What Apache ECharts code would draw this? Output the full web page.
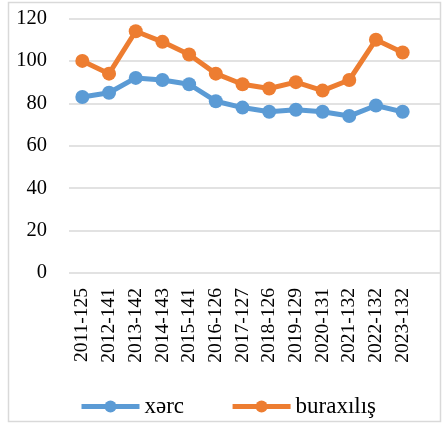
<!DOCTYPE html>
<html>
<head>
<meta charset="utf-8">
<script src="https://cdn.jsdelivr.net/npm/echarts@6/dist/echarts.min.js"></script>
<style>html,body{margin:0;padding:0;background:#fff}#c{width:443px;height:424px}</style>
</head>
<body>
<div id="c"></div>
<script>
const categories = ['2011-125','2012-141','2013-142','2014-143','2015-141','2016-126','2017-127','2018-126','2019-129','2020-131','2021-132','2022-132','2023-132'];
const xercValues = [83, 85, 92, 91, 89, 81, 78, 76, 77, 76, 74, 79, 76];
const buraxilisValues = [100, 94, 114, 109, 103, 94, 89, 87, 90, 86, 91, 110, 104];
const yMin = 0, yMax = 120, yStep = 20;

const font = '"Liberation Serif", "Times New Roman", serif';
const chart = echarts.init(document.getElementById('c'), null, {renderer: 'canvas'});
chart.setOption({
  animation: false,
  backgroundColor: '#fff',
  graphic: [{
    type: 'rect', z: -10,
    shape: {x: 8.5, y: 2.5, width: 432, height: 419},
    style: {fill: 'none', stroke: '#d9d9d9', lineWidth: 1.5}
  }],
  grid: [
    {left: 69, right: 3, top: 18.5, height: 254.5},
    {left: 69, width: 347, top: 18.5, height: 254.5}
  ],
  legend: {
    left: 74, top: 390,
    itemWidth: 58, itemHeight: 15, itemGap: 46,
    lineStyle: {width: 5},
    textStyle: {fontFamily: font, fontSize: 23, color: '#000'},
    data: ['xərc', 'buraxılış']
  },
  xAxis: [
    {type: 'value', gridIndex: 0, show: false, min: 0, max: 1},
    {type: 'category', gridIndex: 1, data: categories, boundaryGap: true,
     axisLine: {show: false}, axisTick: {show: false}, splitLine: {show: false},
     axisLabel: {rotate: 90, margin: 15, fontFamily: font, fontSize: 19.5, color: '#000', interval: 0}}
  ],
  yAxis: [
    {type: 'value', gridIndex: 0, min: yMin, max: yMax, interval: yStep,
     axisLine: {show: false}, axisTick: {show: false},
     splitLine: {lineStyle: {color: '#d9d9d9', width: 1.5}},
     axisLabel: {margin: 22, fontFamily: font, fontSize: 20.5, color: '#000'}},
    {type: 'value', gridIndex: 1, min: yMin, max: yMax, interval: yStep, show: false,
     splitLine: {show: false}}
  ],
  series: [
    {name: 'xərc', type: 'line', xAxisIndex: 1, yAxisIndex: 1, data: xercValues,
     symbol: 'circle', symbolSize: 14, color: '#5B9BD5',
     lineStyle: {width: 5, color: '#5B9BD5'}, itemStyle: {color: '#5B9BD5'}},
    {name: 'buraxılış', type: 'line', xAxisIndex: 1, yAxisIndex: 1, data: buraxilisValues,
     symbol: 'circle', symbolSize: 14, color: '#ED7D31',
     lineStyle: {width: 5, color: '#ED7D31'}, itemStyle: {color: '#ED7D31'}}
  ]
});
</script>
</body>
</html>
